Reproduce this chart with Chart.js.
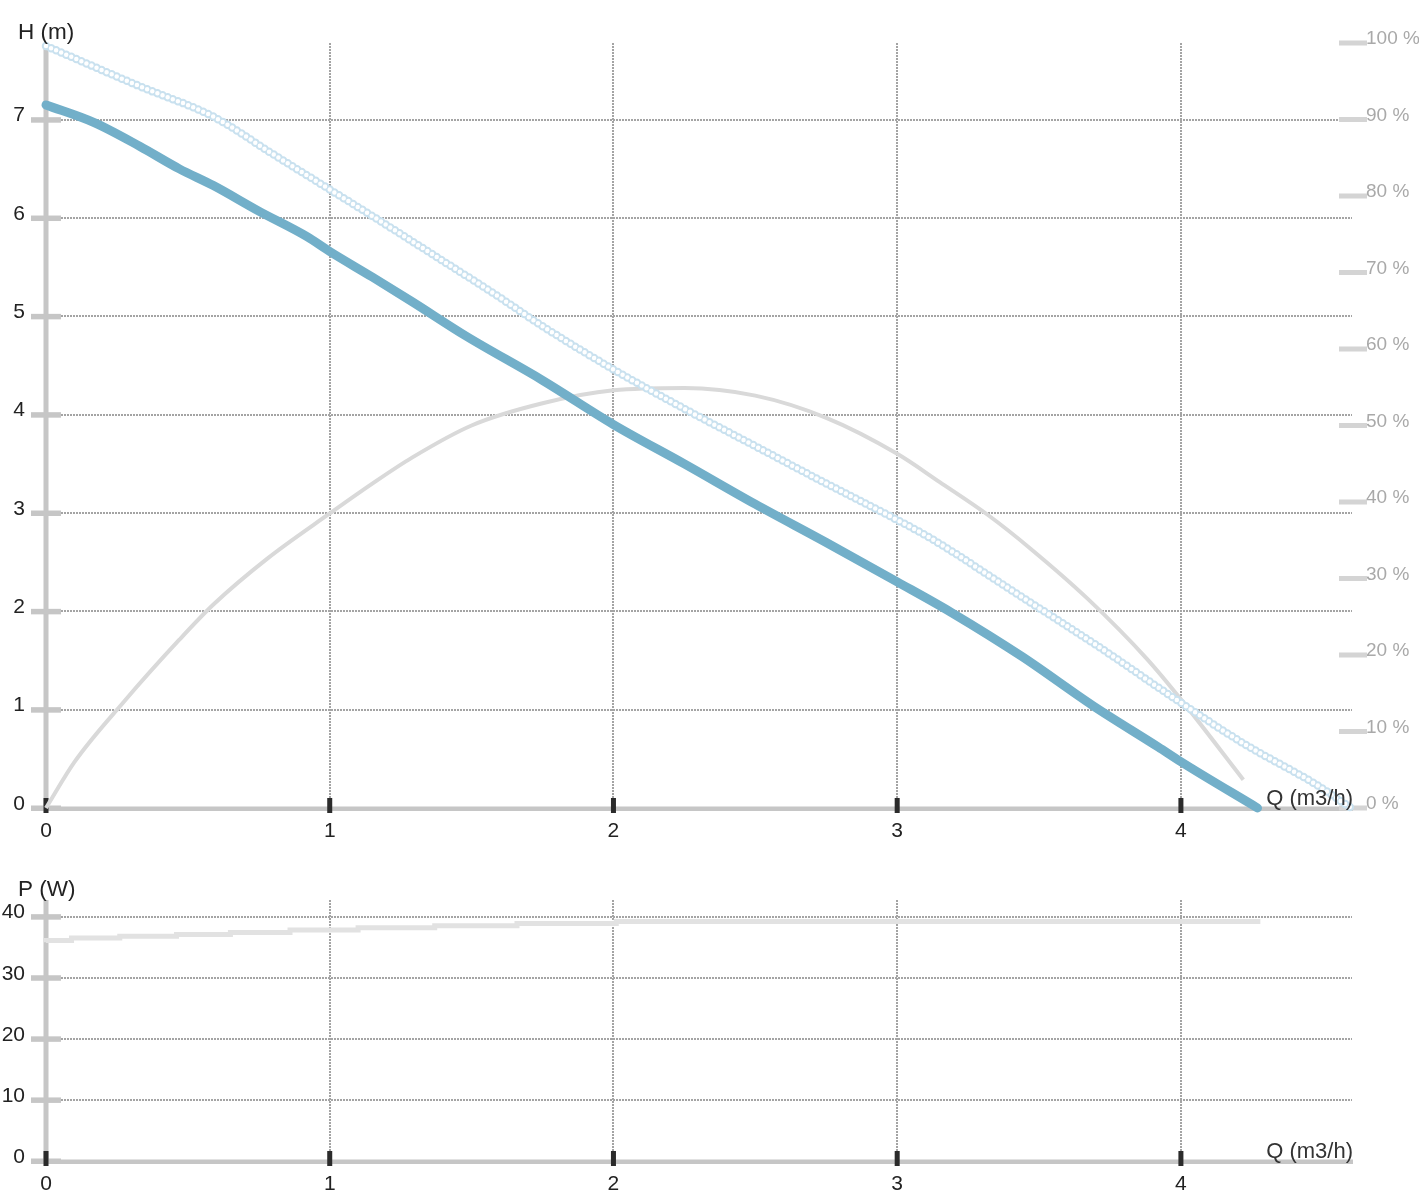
<!DOCTYPE html>
<html><head><meta charset="utf-8">
<script src="https://cdn.jsdelivr.net/npm/chart.js@4.4.0/dist/chart.umd.min.js"></script>
<style>
html,body{margin:0;padding:0;background:#fff;width:1419px;height:1195px;overflow:hidden}
canvas{position:absolute;left:0}
#top{top:0}
#bot{top:860px}
</style></head><body>
<canvas id="top" width="1419" height="860"></canvas>
<canvas id="bot" width="1419" height="335"></canvas>
<script>
// ---- data ----
const qHead = [0, 0.17, 0.33, 0.47, 0.59, 0.75, 0.92, 1.0, 1.15, 1.29, 1.48, 1.75, 2.0, 2.25, 2.5, 2.75, 3.0, 3.19, 3.44, 3.69, 3.92, 4.0, 4.27];
const head = [7.15, 6.97, 6.73, 6.50, 6.33, 6.07, 5.81, 5.66, 5.40, 5.15, 4.80, 4.35, 3.90, 3.50, 3.09, 2.70, 2.30, 1.99, 1.54, 1.04, 0.62, 0.47, 0.0];

const qHeadMax = [0, 0.33, 0.59, 0.8, 1.0, 1.15, 1.39, 1.59, 1.75, 2.0, 2.25, 2.5, 2.75, 2.94, 3.12, 3.41, 3.7, 4.0, 4.23, 4.47, 4.6];
const headMax = [7.75, 7.34, 7.03, 6.65, 6.29, 6.02, 5.58, 5.21, 4.9, 4.46, 4.06, 3.68, 3.3, 3.02, 2.74, 2.2, 1.66, 1.07, 0.64, 0.25, 0.0];

const qEff = [0, 0.1, 0.27, 0.47, 0.59, 0.78, 1.0, 1.15, 1.29, 1.5, 1.75, 2.0, 2.25, 2.5, 2.75, 3.0, 3.15, 3.32, 3.47, 3.67, 3.88, 4.0, 4.22];
const eff = [0, 6, 13.7, 22.0, 26.6, 32.6, 38.5, 42.4, 45.8, 50.0, 52.9, 54.6, 54.9, 53.9, 51.0, 46.3, 42.6, 38.3, 33.9, 27.4, 19.5, 14.2, 3.7];

const qPower = [0, 0.09, 0.26, 0.46, 0.65, 0.86, 1.10, 1.37, 1.66, 2.01, 2.52, 4.28];
const power = [35.8, 36.1, 36.5, 36.8, 37.1, 37.4, 37.8, 38.2, 38.5, 38.9, 39.2, 39.2];

const qTicks = [0, 1, 2, 3, 4];
const hTicks = [0, 1, 2, 3, 4, 5, 6, 7];
const effTicks = [0, 10, 20, 30, 40, 50, 60, 70, 80, 90, 100];
const pTicks = [0, 10, 20, 30, 40];

const qTitle = 'Q (m3/h)';
const hTitle = 'H (m)';
const pTitle = 'P (W)';

// ---- helpers ----
const pts = (xs, ys) => xs.map((x, i) => ({x, y: ys[i]}));
Chart.defaults.font.family = "'Liberation Sans', Arial, sans-serif";
Chart.defaults.animation = false;

const gridStyle = {color: '#a4a4a4', lineWidth: 2, drawTicks: false};
const borderStyle = {display: false, dash: [2, 1]};

function decor(yTitle, hasRight) {
  return {
    id: 'decor',
    beforeDatasetsDraw(chart) {
      const ctx = chart.ctx, a = chart.chartArea, xs = chart.scales.x, ys = chart.scales.y;
      ctx.save();
      ctx.fillStyle = '#c6c6c6';
      ctx.fillRect(a.left - 2.5, a.top, 5, a.bottom - a.top + 2);
      ctx.fillRect(a.left - 15, a.bottom - 1.5, a.right - a.left + 16, 4.5);
      ys.ticks.forEach(t => {
        const py = ys.getPixelForValue(t.value);
        ctx.fillRect(a.left - 15, py - 2.5, 30, 5.5);
      });
      if (hasRight) {
        const y2 = chart.scales.y2;
        ctx.fillStyle = '#d4d4d4';
        y2.ticks.forEach(t => {
          const py = y2.getPixelForValue(t.value);
          ctx.fillRect(a.right - 13, py - 2.5, 28, 5);
        });
      }
      ctx.fillStyle = '#2b2b2b';
      xs.ticks.forEach(t => {
        const px = xs.getPixelForValue(t.value);
        ctx.fillRect(px - 2.5, a.bottom - 10, 5, 15);
      });
      ctx.restore();
    },
    afterDraw(chart) {
      const ctx = chart.ctx, a = chart.chartArea;
      ctx.save();
      ctx.font = "22.5px 'Liberation Sans', Arial, sans-serif";
      ctx.fillStyle = '#222';
      ctx.textAlign = 'left';
      ctx.textBaseline = 'middle';
      ctx.fillText(yTitle, 18, a.top - 10);
      ctx.fillStyle = '#333';
      ctx.textAlign = 'right';
      ctx.textBaseline = 'alphabetic';
      ctx.font = "22px 'Liberation Sans', Arial, sans-serif";
      ctx.fillText(qTitle, a.right + 1, a.bottom - 3);
      ctx.restore();
    }
  };
}

const xScale = (h) => ({
  type: 'linear', min: 0, max: 4.603,
  afterBuildTicks: s => { s.ticks = qTicks.map(v => ({value: v})); },
  afterFit: s => { s.height = h; },
  grid: gridStyle, border: borderStyle,
  ticks: {color: '#222', font: {size: 21}, padding: 11, maxRotation: 0}
});

// ---- top chart: H and efficiency ----
new Chart(document.getElementById('top'), {
  type: 'line',
  data: {
    datasets: [
      {data: pts(qHead, head), borderColor: '#72afc9', borderWidth: 9, pointRadius: 0, cubicInterpolationMode: 'monotone', borderCapStyle: 'round', borderJoinStyle: 'round', clip: false, yAxisID: 'y'},
      {data: pts(qHeadMax, headMax), borderColor: '#ffffff', borderWidth: 4.5, borderDash: [0, 5.5], borderCapStyle: 'round', cubicInterpolationMode: 'monotone', pointRadius: 0, clip: false, yAxisID: 'y'},
      {data: pts(qHeadMax, headMax), borderColor: '#c9e1ef', borderWidth: 8.5, borderDash: [0, 5.5], borderCapStyle: 'round', cubicInterpolationMode: 'monotone', pointRadius: 0, clip: false, yAxisID: 'y'},
      {data: pts(qEff, eff), borderColor: '#d9d9d9', borderWidth: 4, pointRadius: 0, cubicInterpolationMode: 'monotone', clip: false, yAxisID: 'y2'}
    ]
  },
  options: {
    responsive: false, devicePixelRatio: 1,
    layout: {padding: {top: 43, left: 0, right: 0, bottom: 0}},
    plugins: {legend: {display: false}, tooltip: {enabled: false}},
    scales: {
      x: xScale(52),
      y: {
        type: 'linear', position: 'left', min: 0, max: 7.78,
        afterBuildTicks: s => { s.ticks = hTicks.map(v => ({value: v})); },
        afterFit: s => { s.width = 46; },
        grid: gridStyle, border: borderStyle,
        ticks: {color: '#222', font: {size: 21}, padding: 21, labelOffset: -4}
      },
      y2: {
        type: 'linear', position: 'right', min: 0, max: 100,
        afterBuildTicks: s => { s.ticks = effTicks.map(v => ({value: v})); },
        afterFit: s => { s.width = 67; },
        grid: {display: false, drawTicks: false}, border: {display: false},
        ticks: {color: '#a9a9a9', font: {size: 19}, padding: 14, labelOffset: -4, callback: v => v + ' %'}
      }
    }
  },
  plugins: [decor(hTitle, true)]
});

// ---- bottom chart: power ----
new Chart(document.getElementById('bot'), {
  type: 'line',
  data: {
    datasets: [
      {data: pts(qPower, power), borderColor: '#e2e2e2', borderWidth: 5, pointRadius: 0, stepped: 'after', clip: false}
    ]
  },
  options: {
    responsive: false, devicePixelRatio: 1,
    layout: {padding: {top: 40, left: 0, right: 67, bottom: 0}},
    plugins: {legend: {display: false}, tooltip: {enabled: false}},
    scales: {
      x: xScale(34),
      y: {
        type: 'linear', position: 'left', min: 0, max: 42.73,
        afterBuildTicks: s => { s.ticks = pTicks.map(v => ({value: v})); },
        afterFit: s => { s.width = 46; },
        grid: gridStyle, border: borderStyle,
        ticks: {color: '#222', font: {size: 21}, padding: 21, labelOffset: -4}
      }
    }
  },
  plugins: [decor(pTitle, false)]
});
</script>
</body></html>
